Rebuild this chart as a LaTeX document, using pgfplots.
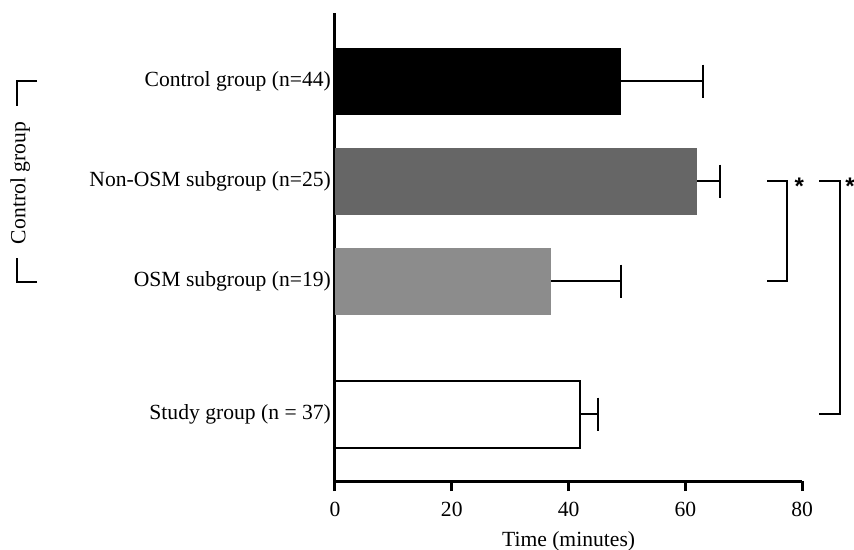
\documentclass[border=0pt]{standalone}
\usepackage{fontspec}
\setmainfont{Liberation Serif}
\newfontfamily\starfont{Liberation Sans}
\usepackage{pgfplots}
\pgfplotsset{compat=1.18}
\definecolor{nonosm}{RGB}{102,102,102}
\definecolor{osm}{RGB}{140,140,140}
\pgfplotsset{errstyle/.style={error bars/.cd, x dir=plus, x explicit,
  error bar style={draw=black, solid, line width=1pt},
  error mark options={draw=black, solid, line width=1pt, mark size=8.25pt, rotate=90}}}
\begin{document}
\begin{tikzpicture}
\begin{axis}[
 scale only axis, width=233.5pt, height=234pt,
 xmin=0, xmax=80, ymin=0, ymax=4.68,
 axis x line*=bottom, axis y line*=left,
 axis line style={line width=1.5pt},
 x axis line style={-}, y axis line style={-},
 xtick={0,20,40,60,80},
 ytick={4,3,2,0.67},
 yticklabels={Control group (n=44), Non-OSM subgroup (n=25), OSM subgroup (n=19), Study group (n = 37)},
 y tick style={draw=none},
 yticklabel style={xshift=6.5pt},
 xticklabel style={yshift=-2pt},
 xlabel style={yshift=-0.5pt},
 x tick style={line width=1.5pt, black},
 major tick length=5pt, tick align=outside,
 xlabel={Time (minutes)},
 font=\fontsize{10.8}{13}\selectfont,
 /pgf/number format/assume math mode=true,
 xbar, bar width=33.5pt,
 clip=false,
]
\addplot[xbar, bar shift=0pt, fill=black, draw=none, errstyle] coordinates {(49,4) +- (14,0)};
\addplot[xbar, bar shift=0pt, fill=nonosm, draw=none, errstyle] coordinates {(62,3) +- (4,0)};
\addplot[xbar, bar shift=0pt, fill=osm, draw=none, errstyle] coordinates {(37,2) +- (12,0)};
\addplot[xbar, bar shift=0pt, fill=white, draw=black, line width=1pt, errstyle] coordinates {(42,0.67) +- (3,0)};
\draw[line width=1pt] (axis cs:74,3) -- (axis cs:77.4,3) -- (axis cs:77.4,2) -- (axis cs:74,2);
\draw[line width=1pt] (axis cs:82.9,3) -- (axis cs:86.5,3) -- (axis cs:86.5,0.67) -- (axis cs:82.9,0.67);
\node[inner sep=0pt, font=\starfont\fontsize{12}{12}\selectfont\bfseries] at (axis cs:79.5,2.95) {*};
\node[inner sep=0pt, font=\starfont\fontsize{12}{12}\selectfont\bfseries] at (axis cs:88.2,2.95) {*};
\draw[line width=1pt] (axis cs:-51,4) -- (axis cs:-54.45,4) -- (axis cs:-54.45,3.75);
\draw[line width=1pt] (axis cs:-51,1.99) -- (axis cs:-54.45,1.99) -- (axis cs:-54.45,2.23);
\node[rotate=90, inner sep=0pt] at (axis cs:-53.9,2.98) {Control group};
\coordinate (bbl) at (axis cs:-57.36,-0.68);
\coordinate (btr) at (axis cs:88.87,4.81);
\end{axis}
\pgfresetboundingbox
\path (bbl) rectangle (btr);
\end{tikzpicture}
\end{document}
